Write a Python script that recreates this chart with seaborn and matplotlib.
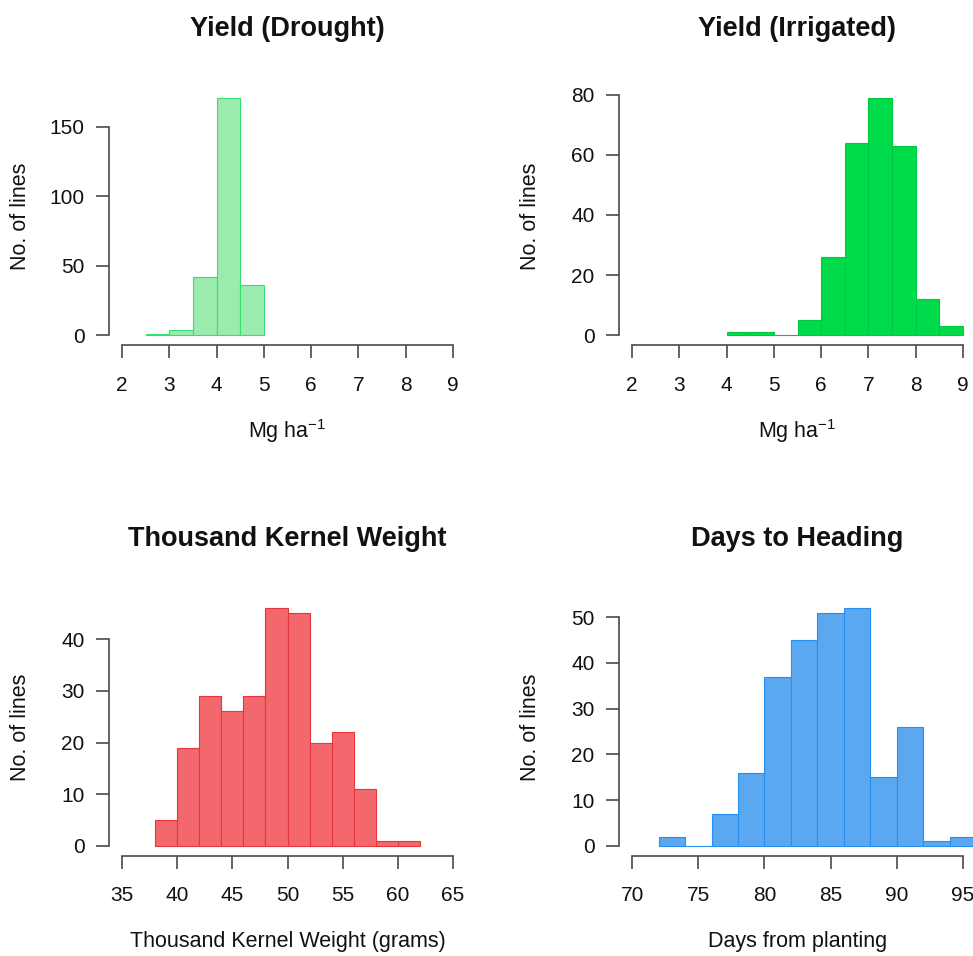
import numpy as np
import pandas as pd
import matplotlib
matplotlib.use("Agg")
import matplotlib.pyplot as plt
import seaborn as sns

# Bin edges and counts
drought_edges = [2.5, 3.0, 3.5, 4.0, 4.5, 5.0]
drought_counts = [1, 4, 42, 171, 36]

irrigated_edges = [4.0, 4.5, 5.0, 5.5, 6.0, 6.5, 7.0, 7.5, 8.0, 8.5, 9.0]
irrigated_counts = [1, 1, 0, 5, 26, 64, 79, 63, 12, 3]

tkw_edges = [38, 40, 42, 44, 46, 48, 50, 52, 54, 56, 58, 60, 62]
tkw_counts = [5, 19, 29, 26, 29, 46, 45, 20, 22, 11, 1, 1]

heading_edges = [72, 74, 76, 78, 80, 82, 84, 86, 88, 90, 92, 94, 96]
heading_counts = [2, 0, 7, 16, 37, 45, 51, 52, 15, 26, 1, 2]

yield_xticks = [2, 3, 4, 5, 6, 7, 8, 9]
tkw_xticks = [35, 40, 45, 50, 55, 60, 65]
heading_xticks = [70, 75, 80, 85, 90, 95]

drought_yticks = [0, 50, 100, 150]
irrigated_yticks = [0, 20, 40, 60, 80]
tkw_yticks = [0, 10, 20, 30, 40]
heading_yticks = [0, 10, 20, 30, 40, 50]

sns.set_style("ticks")
plt.rcParams["font.family"] = ["Liberation Sans", "DejaVu Sans"]
plt.rcParams["mathtext.fontset"] = "custom"
plt.rcParams["mathtext.rm"] = "Liberation Sans"
plt.rcParams["mathtext.default"] = "regular"

AXIS_COLOR = "#4a4a4a"
TEXT_COLOR = "#111111"


def r_style_hist(ax, edges, counts, xticks, yticks, fill, edge, title, xlabel):
    """Draw one pre-binned histogram in the look of an R base graphics hist()."""
    edge_arr = np.asarray(edges, dtype=float)
    centers = (edge_arr[:-1] + edge_arr[1:]) / 2
    df = pd.DataFrame({"value": centers, "count": counts})
    sns.histplot(data=df, x="value", weights="count", bins=list(edges), ax=ax,
                 color=fill, edgecolor=edge, linewidth=0.8, alpha=1.0)

    # R pads the plot region by 4% on each side
    x0, x1 = xticks[0], xticks[-1]
    xr = x1 - x0
    ymax = max(counts)
    ax.set_xlim(x0 - 0.04 * xr, x1 + 0.04 * xr)
    ax.set_ylim(-0.04 * ymax, 1.04 * ymax)

    ax.set_xticks(xticks)
    ax.set_yticks(yticks)
    ax.set_xticklabels([str(t) for t in xticks])
    ax.set_yticklabels([str(t) for t in yticks])

    for side in ("top", "right"):
        ax.spines[side].set_visible(False)
    ax.spines["left"].set_bounds(yticks[0], yticks[-1])
    ax.spines["bottom"].set_bounds(x0, x1)
    for side in ("left", "bottom"):
        ax.spines[side].set_color(AXIS_COLOR)
        ax.spines[side].set_linewidth(1.2)

    ax.tick_params(axis="both", direction="out", length=9.5, width=1.2,
                   color=AXIS_COLOR, labelsize=15, labelcolor=TEXT_COLOR)
    ax.tick_params(axis="x", pad=12.5)
    ax.tick_params(axis="y", pad=8)

    ax.set_xlabel(xlabel, fontsize=15.5, color=TEXT_COLOR)
    ax.xaxis.set_label_coords(0.5, -0.335)
    ax.xaxis.label.set_va("center")
    ax.set_ylabel("No. of lines", fontsize=15.5, color=TEXT_COLOR)
    ax.yaxis.set_label_coords(-0.249, 0.5)
    ax.yaxis.label.set_va("center")

    ax.text(0.5, 1.23, title, transform=ax.transAxes, ha="center", va="center",
            fontsize=19.5, fontweight="bold", color=TEXT_COLOR)


fig = plt.figure(figsize=(9.73, 9.56), dpi=100)

ax_w, ax_h = 357 / 973, 257 / 956
left_l, left_r = 109 / 973, 619 / 973
bottom_top, bottom_bot = (956 - 345) / 956, (956 - 855.5) / 956

ax1 = fig.add_axes([left_l, bottom_top, ax_w, ax_h])
ax2 = fig.add_axes([left_r, bottom_top, ax_w, ax_h])
ax3 = fig.add_axes([left_l, bottom_bot, ax_w, ax_h])
ax4 = fig.add_axes([left_r, bottom_bot, ax_w, ax_h])

r_style_hist(ax1, drought_edges, drought_counts, yield_xticks, drought_yticks,
             "#9beaae", "#34e070", "Yield (Drought)", r"Mg ha$^{-1}$")
r_style_hist(ax2, irrigated_edges, irrigated_counts, yield_xticks, irrigated_yticks,
             "#00db4b", "#00c843", "Yield (Irrigated)", r"Mg ha$^{-1}$")
r_style_hist(ax3, tkw_edges, tkw_counts, tkw_xticks, tkw_yticks,
             "#f2686c", "#e8343c", "Thousand Kernel Weight",
             "Thousand Kernel Weight (grams)")
r_style_hist(ax4, heading_edges, heading_counts, heading_xticks, heading_yticks,
             "#5ba8f0", "#2490f0", "Days to Heading", "Days from planting")

fig.savefig("out.png", dpi=100)
